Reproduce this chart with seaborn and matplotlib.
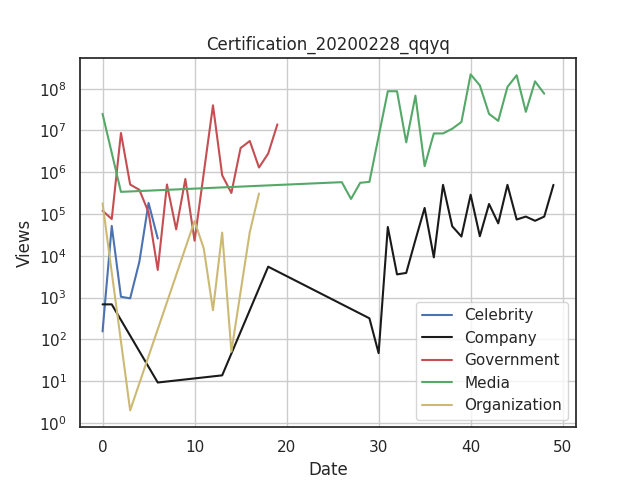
import pandas as pd
import matplotlib
matplotlib.use("Agg")
import matplotlib.pyplot as plt
import seaborn as sns

# views per day index
celebrity_x = [0, 1, 2, 3, 4, 5, 6]
celebrity_y = [155, 5.2e4, 1050, 960, 7200, 1.85e5, 2.6e4]

company_x = [0, 1, 6, 13, 18, 29, 30, 31, 32, 33, 34, 35, 36, 37, 38, 39,
             40, 41, 42, 43, 44, 45, 46, 47, 48, 49]
company_y = [690, 690, 9.3, 13.8, 5500, 320, 47, 4.9e4, 3600, 3900, 2.4e4,
             1.4e5, 9200, 5e5, 5.1e4, 2.9e4, 2.9e5, 2.95e4, 1.74e5, 6e4,
             5e5, 7.4e4, 8.7e4, 6.9e4, 8.7e4, 5e5]

government_x = [0, 1, 2, 3, 4, 5, 6, 7, 8, 9, 10, 12, 13, 14, 15, 16, 17, 18, 19]
government_y = [1.2e5, 7.6e4, 8.7e6, 5.1e5, 3.8e5, 1.1e5, 4600, 5.1e5, 4.3e4,
                6.9e5, 2.3e4, 4.0e7, 8.5e5, 3.2e5, 3.8e6, 5.6e6, 1.3e6,
                2.8e6, 1.4e7]

media_x = [0, 2, 26, 27, 28, 29, 31, 32, 33, 34, 35, 36, 37, 38, 39, 40, 41,
           42, 43, 44, 45, 46, 47, 48]
media_y = [2.5e7, 3.4e5, 5.8e5, 2.3e5, 5.6e5, 5.9e5, 8.7e7, 8.7e7, 5.2e6,
           6.8e7, 1.4e6, 8.5e6, 8.5e6, 1.1e7, 1.6e7, 2.2e8, 1.2e8, 2.5e7,
           1.7e7, 1.1e8, 2.1e8, 2.8e7, 1.5e8, 7.6e7]

organization_x = [0, 3, 10, 11, 12, 13, 14, 16, 17]
organization_y = [1.8e5, 2, 6.8e4, 1.5e4, 500, 3.6e4, 51, 3.7e4, 3.1e5]

series = {
    'Celebrity': (celebrity_x, celebrity_y),
    'Company': (company_x, company_y),
    'Government': (government_x, government_y),
    'Media': (media_x, media_y),
    'Organization': (organization_x, organization_y),
}
colors = {'Celebrity': 'b', 'Company': 'k', 'Government': 'r',
          'Media': 'g', 'Organization': 'y'}

rows = []
for name, (xs, ys) in series.items():
    for x, y in zip(xs, ys):
        rows.append({'Date': x, 'Views': y, 'Type': name})
df = pd.DataFrame(rows)

sns.set_theme(style="white")
fig, ax = plt.subplots(figsize=(6.4, 4.8), dpi=100)
for name in series:
    sns.lineplot(data=df[df['Type'] == name], x='Date', y='Views',
                 color=colors[name], label=name, ax=ax)
ax.set_yscale('log')
ax.grid(True)
ax.set_title('Certification_20200228_qqyq')
ax.legend(loc='lower right')
plt.savefig('out.png')
